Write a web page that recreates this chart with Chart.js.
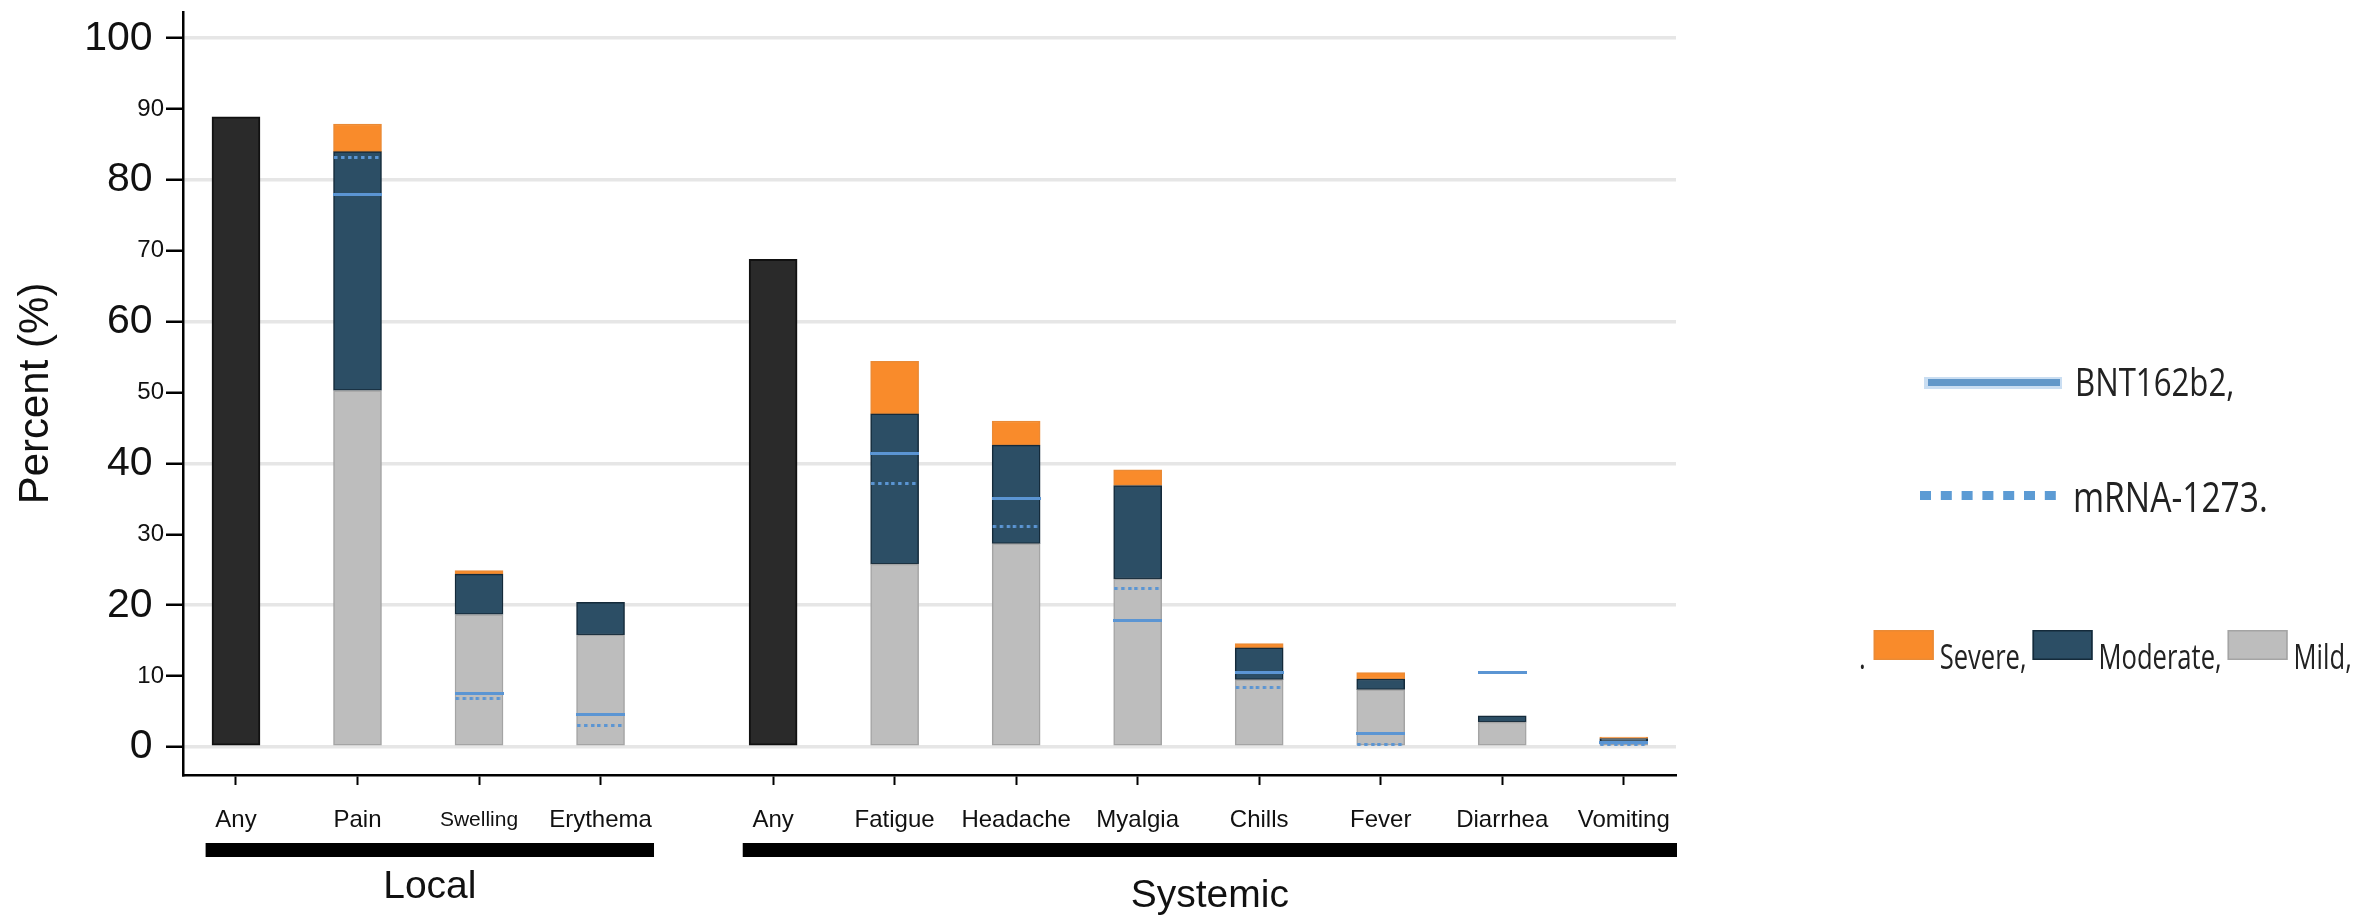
<!DOCTYPE html>
<html>
<head>
<meta charset="utf-8">
<script src="https://cdn.jsdelivr.net/npm/chart.js@4/dist/chart.umd.min.js"></script>
<style>
  html, body { margin: 0; padding: 0; background: #ffffff; }
  canvas { display: block; }
</style>
</head>
<body>
<canvas id="chart" width="2357" height="916"></canvas>
<script>
// Reactogenicity by symptom: percent of participants, stacked by grade
const groupLabels = ['Local', 'Systemic'];
const groupSizes = [4, 8];
const categories = ['Any', 'Pain', 'Swelling', 'Erythema',
                    'Any', 'Fatigue', 'Headache', 'Myalgia', 'Chills', 'Fever', 'Diarrhea', 'Vomiting'];

const anyGrade = [88.9, null, null, null, 68.8, null, null, null, null, null, null, null];
const mild     = [null, 50.3, 18.7, 15.8, null, 25.8, 28.7, 23.7, 9.5, 8.1, 3.5, 0.8];
const moderate = [null, 33.7, 5.7, 4.6, null, 21.2, 13.9, 13.2, 4.5, 1.5, 0.9, 0.4];
const severe   = [null, 3.9, 0.5, null, null, 7.4, 3.4, 2.2, 0.6, 0.9, null, 0.2];

// Comparison rates reported for the two vaccines
const bnt162b2 = [null, 78.0, 7.5, 4.6, null, 41.4, 35.0, 17.9, 10.5, 1.9, 10.5, 0.6];
const mrna1273 = [null, 83.2, 6.8, 3.1, null, 37.2, 31.1, 22.4, 8.4, 0.4, null, 0.3];

const yTickValues = [0, 10, 20, 30, 40, 50, 60, 70, 80, 90, 100];

// ---- layout helpers ----
const GROUP_STEP = 1.42;        // distance from the last local symptom to the first systemic one
const positions = [];
(function () {
  let p = 0;
  groupSizes.forEach(n => {
    for (let i = 0; i < n; i++) { positions.push(p); p += 1; }
    p += GROUP_STEP - 1;
  });
})();

function toPoints(values) {
  const pts = [];
  values.forEach((v, i) => { if (v !== null && v > 0) pts.push({ x: positions[i], y: v }); });
  return pts;
}

const BAR_WIDTH = 48;
const LINE_BLUE = '#5b95d3';

function segmentStyle(dotted) {
  const c = document.createElement('canvas');
  c.width = BAR_WIDTH + 1;
  c.height = 3;
  const g = c.getContext('2d');
  g.fillStyle = LINE_BLUE;
  if (!dotted) {
    g.fillRect(0, 0, c.width, 3);
  } else {
    for (let x = 1; x < c.width - 2; x += 6.8) g.fillRect(Math.round(x), 0, 3.5, 3);
  }
  return c;
}
const solidSegment = segmentStyle(false);
const dottedSegment = segmentStyle(true);

const AXIS_FONT = '"Liberation Sans", Arial, Helvetica, sans-serif';
const LEGEND_FONT = '"Open Sans", "Noto Sans", sans-serif';

// Black brackets under the category labels with the group names
const groupBrackets = {
  id: 'groupBrackets',
  afterDraw(chart) {
    const { ctx, scales: { x } } = chart;
    const baselines = [898, 907];
    let start = 0;
    ctx.save();
    groupLabels.forEach((label, g) => {
      const first = positions[start];
      const last = positions[start + groupSizes[g] - 1];
      start += groupSizes[g];
      const x1 = x.getPixelForValue(first - 0.25);
      const x2 = Math.min(x.getPixelForValue(last + 0.44), x.right + 1);
      ctx.fillStyle = '#000000';
      ctx.fillRect(x1, 843, x2 - x1, 14);
      ctx.font = '39px ' + AXIS_FONT;
      ctx.textAlign = 'center';
      ctx.textBaseline = 'alphabetic';
      ctx.fillStyle = '#111111';
      ctx.fillText(label, (x1 + x2) / 2, baselines[g]);
    });
    ctx.restore();
  }
};

// Legend on the right: vaccine lines, then the grade swatches in one row
const sideLegend = {
  id: 'sideLegend',
  afterDraw(chart) {
    const ctx = chart.ctx;
    const ds = chart.data.datasets;
    const byLabel = l => ds.find(d => d.label === l);
    const text = (str, x, y, size, squeeze) => {
      ctx.save();
      ctx.font = size + 'px ' + LEGEND_FONT;
      ctx.fillStyle = '#222222';
      ctx.textBaseline = 'alphabetic';
      ctx.textAlign = 'left';
      ctx.translate(x, y);
      ctx.scale(squeeze, 1);
      ctx.fillText(str, 0, 0);
      const w = ctx.measureText(str).width * squeeze;
      ctx.restore();
      return w;
    };
    ctx.save();
    // solid line sample
    ctx.fillStyle = 'rgba(150,190,230,0.5)';
    ctx.fillRect(1924, 377, 138, 12);
    ctx.fillStyle = '#6398c9';
    ctx.fillRect(1928, 379, 132, 7);
    text(byLabel('BNT162b2').label + ',', 2075, 396, 39, 0.8);
    // dotted line sample
    ctx.fillStyle = '#5c9bd4';
    for (let i = 0; i < 7; i++) ctx.fillRect(1920 + i * 20.8, 491, 11, 9);
    text(byLabel('mRNA-1273').label + '.', 2073, 512, 42, 0.8);
    // grade swatches
    let x = 1859;
    const y = 669;
    x += text('.', x, y, 35, 0.73) + 8;
    ['Severe', 'Moderate', 'Mild'].forEach(name => {
      const d = byLabel(name);
      ctx.fillStyle = d.backgroundColor;
      ctx.fillRect(x, 630, 60, 30);
      ctx.strokeStyle = d.borderColor;
      ctx.lineWidth = 1.5;
      ctx.strokeRect(x + 0.75, 630.75, 58.5, 28.5);
      x += 66;
      x += text(name + ',', x, y, 35, 0.73) + 6;
    });
    ctx.restore();
  }
};

const barCommon = { order: 1, barThickness: BAR_WIDTH, borderSkipped: false };

new Chart(document.getElementById('chart'), {
  type: 'bar',
  data: {
    datasets: [
      { ...barCommon, label: 'Any', data: toPoints(anyGrade),
        backgroundColor: '#2a2a2a', borderColor: '#111111', borderWidth: 2 },
      { ...barCommon, label: 'Mild', data: toPoints(mild),
        backgroundColor: '#bdbdbd', borderColor: '#a4a4a4', borderWidth: 1.5 },
      { ...barCommon, label: 'Moderate', data: toPoints(moderate),
        backgroundColor: '#2c4e65', borderColor: '#142a3a', borderWidth: 1.5 },
      { ...barCommon, label: 'Severe', data: toPoints(severe),
        backgroundColor: '#f98b2b', borderColor: '#ea8a35', borderWidth: 1.5 },
      { type: 'line', label: 'BNT162b2', data: toPoints(bnt162b2), order: 0, stack: 'bnt',
        showLine: false, pointStyle: solidSegment, pointRadius: 5, pointHoverRadius: 5 },
      { type: 'line', label: 'mRNA-1273', data: toPoints(mrna1273), order: 0, stack: 'mrna',
        showLine: false, pointStyle: dottedSegment, pointRadius: 5, pointHoverRadius: 5 }
    ]
  },
  options: {
    responsive: false,
    animation: false,
    events: [],
    layout: { padding: { left: 0, top: 12, right: 681, bottom: 0 } },
    plugins: {
      legend: { display: false },
      tooltip: { enabled: false },
      title: { display: false }
    },
    scales: {
      x: {
        type: 'linear',
        stacked: true,
        min: -0.436,
        max: 11.85,
        offset: false,
        bounds: 'data',
        afterBuildTicks(scale) { scale.ticks = positions.map(v => ({ value: v })); },
        afterFit(scale) {
          scale.height = 141;
          scale.paddingLeft = 0;
          scale.paddingRight = 0;
        },
        border: { display: true, color: '#000000', width: 2.5 },
        grid: {
          offset: false,
          drawOnChartArea: false,
          drawTicks: true,
          tickLength: 10,
          tickColor: '#000000',
          tickWidth: 2
        },
        ticks: {
          autoSkip: false,
          maxRotation: 0,
          minRotation: 0,
          padding: 21,
          color: '#111111',
          font: ctx => ({
            family: AXIS_FONT,
            size: categories[ctx.index] === 'Swelling' ? 21 : 24,
            lineHeight: '29px'
          }),
          callback: (value, index) => categories[index]
        }
      },
      y: {
        stacked: true,
        min: -3.95,
        max: 103.7,
        bounds: 'data',
        afterBuildTicks(scale) { scale.ticks = yTickValues.map(v => ({ value: v })); },
        afterFit(scale) {
          scale.width = 183;
          scale.paddingTop = 0;
          scale.paddingBottom = 0;
        },
        border: { display: true, color: '#000000', width: 2.5 },
        grid: {
          drawOnChartArea: true,
          drawTicks: true,
          tickLength: 17,
          tickColor: '#000000',
          tickWidth: 2.5,
          lineWidth: 3.5,
          color: ctx => (ctx.tick && ctx.tick.value % 20 === 0) ? '#e6e6e6' : 'rgba(0,0,0,0)'
        },
        ticks: {
          padding: 2,
          color: '#111111',
          font: ctx => ({
            family: AXIS_FONT,
            size: (ctx.tick && ctx.tick.value % 20 === 0) ? 41 : 24
          }),
          callback: value => (value % 20 === 0 ? value + ' ' : String(value))
        },
        title: {
          display: true,
          text: 'Percent (%)',
          color: '#111111',
          padding: { top: 11, bottom: 0 },
          font: { family: AXIS_FONT, size: 42 }
        }
      }
    }
  },
  plugins: [groupBrackets, sideLegend]
});
</script>
</body>
</html>
